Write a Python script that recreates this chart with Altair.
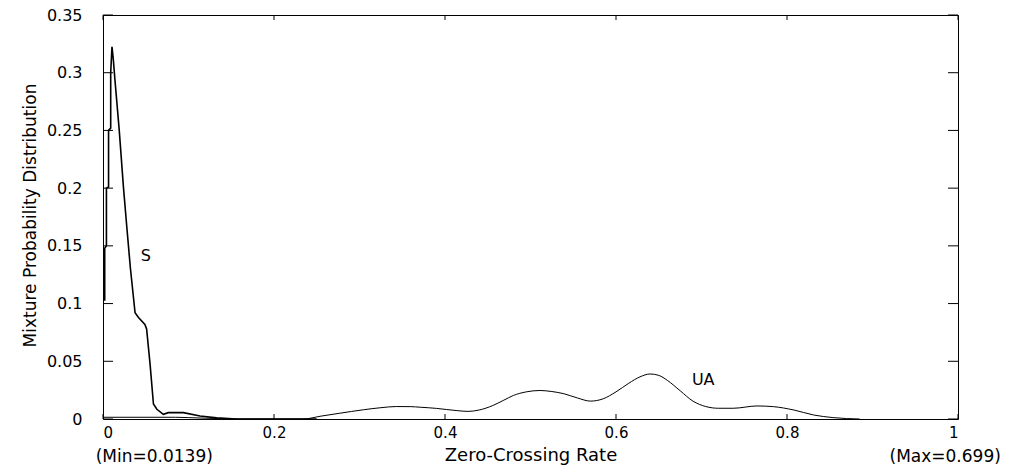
import altair as alt
import pandas as pd

# S curve
s_x = [0.002, 0.002, 0.004, 0.004, 0.0065, 0.0065, 0.009, 0.009, 0.0105, 0.012, 0.014,
       0.019, 0.024, 0.028, 0.032, 0.0375, 0.0415, 0.049, 0.051, 0.055, 0.059, 0.063,
       0.0706, 0.0764, 0.094, 0.1135, 0.133, 0.156, 0.25]
s_y = [0.1025, 0.148, 0.150, 0.200, 0.201, 0.250, 0.252, 0.300, 0.3225, 0.312, 0.2935,
       0.250, 0.200, 0.165, 0.131, 0.092, 0.088, 0.082, 0.078, 0.048, 0.013, 0.0084,
       0.0041, 0.0055, 0.0055, 0.0026, 0.001, 0.0, 0.0]

# UA curve
ua_x = [0.0, 0.085, 0.1, 0.12, 0.145, 0.16, 0.234, 0.255, 0.277, 0.3045, 0.325, 0.343,
        0.36, 0.371, 0.39, 0.402, 0.415, 0.427, 0.44, 0.456, 0.468, 0.48, 0.495, 0.511,
        0.525, 0.539, 0.555, 0.57, 0.585, 0.6, 0.615, 0.628, 0.64, 0.65, 0.66,
        0.675, 0.69, 0.705, 0.72, 0.737, 0.765, 0.784, 0.808, 0.831, 0.854, 0.885]
ua_y = [0.0015, 0.0015, 0.0012, 0.0007, 0.0002, 0.0, 0.0, 0.0025, 0.005, 0.008, 0.0098, 0.0108,
        0.0107, 0.0102, 0.0092, 0.0082, 0.0072, 0.0066, 0.0078, 0.0117, 0.016, 0.0204, 0.0235, 0.0247,
        0.0238, 0.0219, 0.0182, 0.0155, 0.0175, 0.0235, 0.031, 0.0365, 0.039, 0.0378, 0.0335,
        0.0245, 0.0155, 0.0108, 0.0093, 0.0093, 0.0113, 0.0107, 0.0078, 0.0035, 0.0012, 0.0]

x_ticks = [0, 0.2, 0.4, 0.6, 0.8, 1.0]
y_ticks = [0, 0.05, 0.1, 0.15, 0.2, 0.25, 0.3, 0.35]

curve_labels = ["S", "UA"]
curve_label_x = [0.050, 0.702]
curve_label_y = [0.141, 0.0338]

note_labels = ["(Min=0.0139)", "(Max=0.699)"]
note_x = [0.06, 0.985]
note_y = [-0.0325, -0.0325]

FONT = "DejaVu Sans"
W, H = 855, 404

s_df = pd.DataFrame({"x": s_x, "y": s_y, "order": range(len(s_x))})
ua_df = pd.DataFrame({"x": ua_x, "y": ua_y})
xt_df = pd.DataFrame({"x": x_ticks})
yt_df = pd.DataFrame({"y": y_ticks})
lab_df = pd.DataFrame({"t": curve_labels, "x": curve_label_x, "y": curve_label_y})
note_df = pd.DataFrame({"t": note_labels, "x": note_x, "y": note_y})

xscale = alt.Scale(domain=[0, 1], nice=False, zero=False)
yscale = alt.Scale(domain=[0, 0.35], nice=False, zero=False)

xaxis = alt.Axis(values=x_ticks, format=".1~f", ticks=False, tickSize=0, domain=False, grid=False,
                 labelFont=FONT, labelFontSize=15, labelColor="black", labelPadding=6,
                 title="Zero-Crossing Rate", titleFont=FONT, titleFontSize=18, titleFontWeight="normal",
                 titleColor="black", titleX=W / 2, titleY=36, titleBaseline="middle", titleAlign="center")
yaxis = alt.Axis(values=y_ticks, format=".2~f", ticks=False, tickSize=0, domain=False, grid=False,
                 labelFont=FONT, labelFontSize=16, labelColor="black", labelPadding=21,
                 title="Mixture Probability Distribution", titleFont=FONT, titleFontSize=17,
                 titleFontWeight="normal", titleColor="black", titleX=-73, titleY=200,
                 titleAngle=270, titleAlign="center", titleBaseline="middle")

ua_line = alt.Chart(ua_df).mark_line(color="black", strokeWidth=1, interpolate="monotone").encode(
    x=alt.X("x:Q", scale=xscale, axis=xaxis),
    y=alt.Y("y:Q", scale=yscale, axis=yaxis),
)
s_line = alt.Chart(s_df).mark_line(color="black", strokeWidth=1.6).encode(
    x=alt.X("x:Q", scale=xscale),
    y=alt.Y("y:Q", scale=yscale),
    order="order:Q",
)

bottom_ticks = alt.Chart(xt_df).mark_rule(color="black", strokeWidth=1).encode(
    x=alt.X("x:Q", scale=xscale), y=alt.value(H), y2=alt.value(H - 5))
top_ticks = alt.Chart(xt_df).mark_rule(color="black", strokeWidth=1).encode(
    x=alt.X("x:Q", scale=xscale), y=alt.value(0), y2=alt.value(5))
left_ticks = alt.Chart(yt_df).mark_rule(color="black", strokeWidth=1).encode(
    y=alt.Y("y:Q", scale=yscale), x=alt.value(0), x2=alt.value(10))
right_ticks = alt.Chart(yt_df).mark_rule(color="black", strokeWidth=1).encode(
    y=alt.Y("y:Q", scale=yscale), x=alt.value(W), x2=alt.value(W - 10))

labels = alt.Chart(lab_df).mark_text(font=FONT, fontSize=16, color="black",
                                     align="center", baseline="middle").encode(
    x=alt.X("x:Q", scale=xscale), y=alt.Y("y:Q", scale=yscale), text="t:N")
notes = alt.Chart(note_df).mark_text(font=FONT, fontSize=17, color="black",
                                     align="center", baseline="middle").encode(
    x=alt.X("x:Q", scale=xscale), y=alt.Y("y:Q", scale=yscale), text="t:N")

chart = alt.layer(ua_line, s_line, bottom_ticks, top_ticks, left_ticks, right_ticks, labels, notes).properties(
    width=W, height=H,
    autosize=alt.AutoSizeParams(type="none"),
    padding={"left": 103, "top": 15, "right": 65, "bottom": 51},
    background="white",
).configure_view(stroke="black", strokeWidth=1)

chart.save("out.html", embed_options={"renderer": "svg", "actions": False})
